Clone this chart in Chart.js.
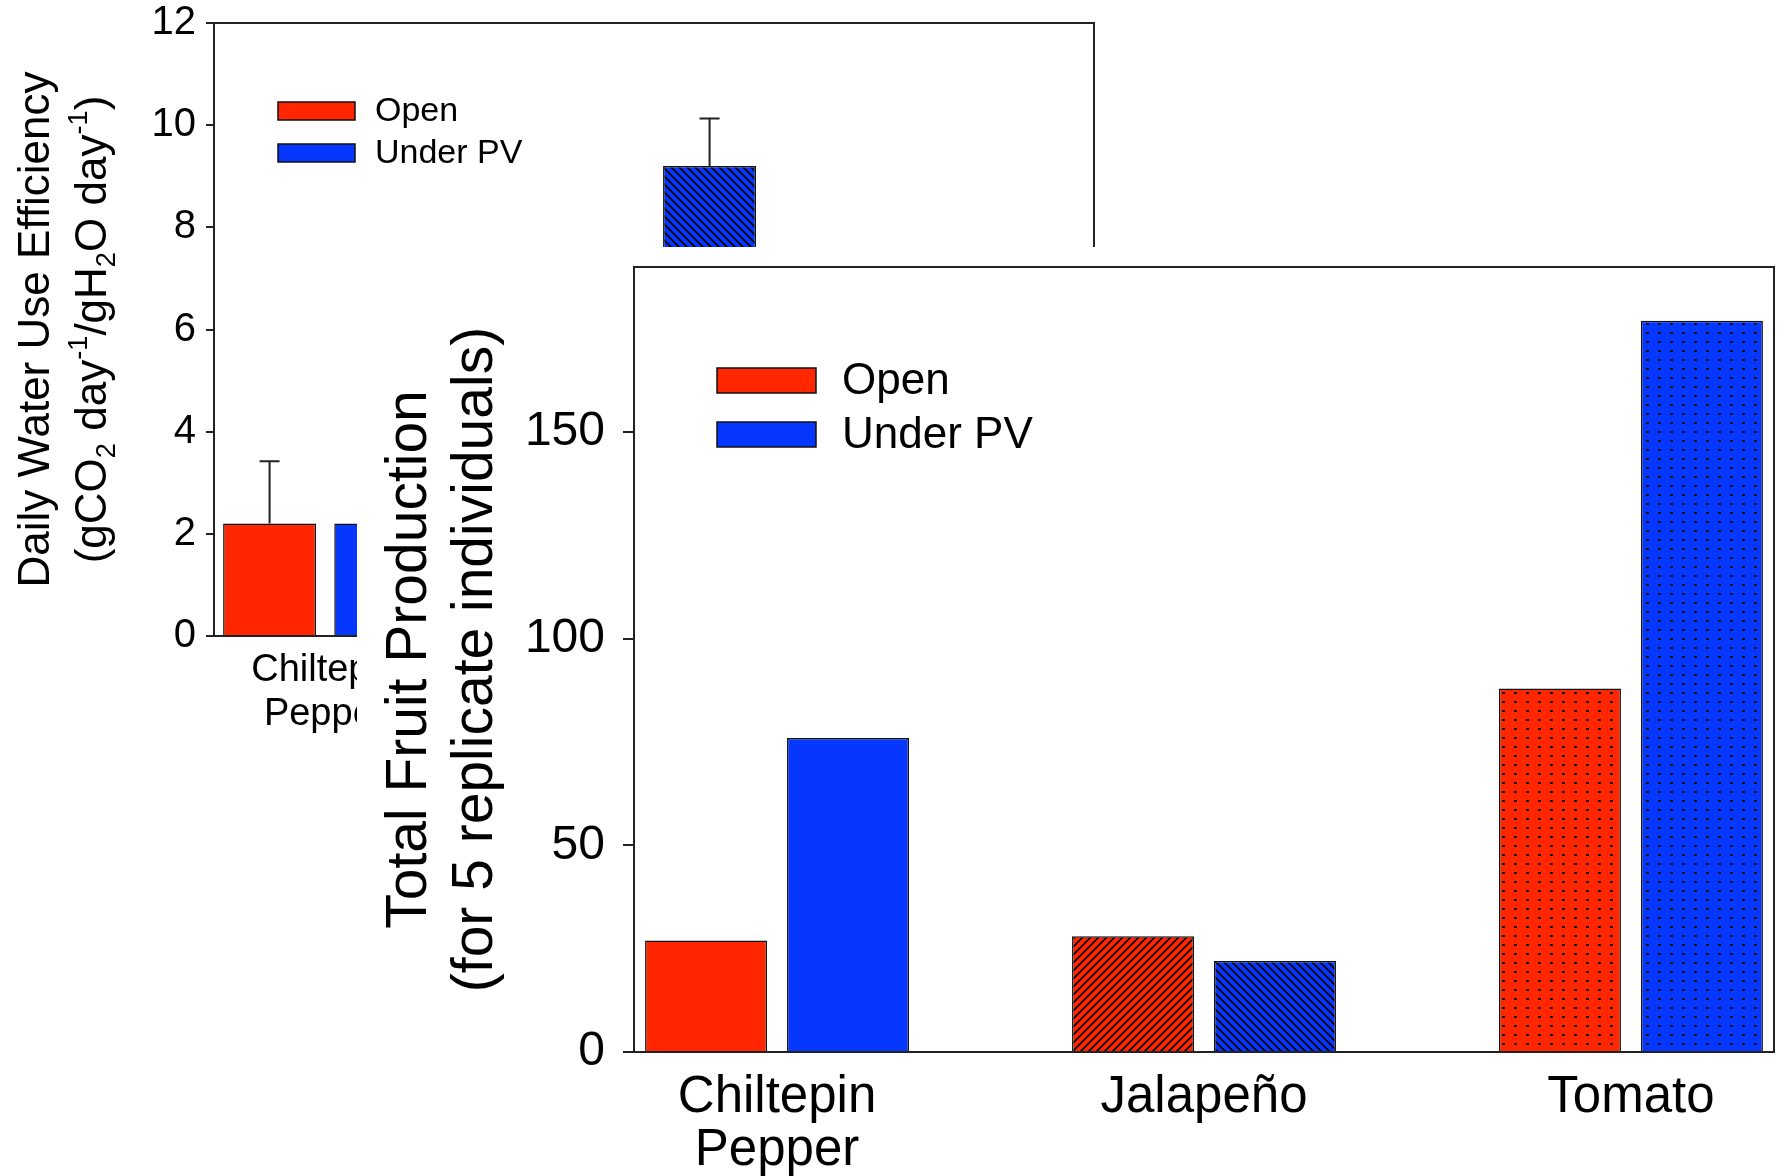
<!DOCTYPE html>
<html>
<head>
<meta charset="utf-8">
<title>Fruit production and water use efficiency</title>
<script src="https://cdn.jsdelivr.net/npm/chart.js@4.4.1/dist/chart.umd.min.js"></script>
<style>
    body { margin: 0; background: #fff; }
    #wrap { position: relative; width: 1781px; height: 1176px; overflow: hidden; }
    #wueChart { position: absolute; left: 0; top: 0; }
    #fruitChart { position: absolute; left: 357px; top: 247px; background: #fff; }
</style>
</head>
<body>
<div id="wrap">
    <canvas id="wueChart" width="1781" height="1176"></canvas>
    <canvas id="fruitChart" width="1424" height="929"></canvas>
</div>
<script>
// chart data
const categories = [['Chiltepin', 'Pepper'], 'Jalapeño', 'Tomato'];
const seriesNames = ['Open', 'Under PV'];

// front chart: total fruit production
const fruitOpen = [27, 28, 88];
const fruitUnderPV = [76, 22, 177];
const fruitTicks = [0, 50, 100, 150];

// back chart: daily water use efficiency (bars hidden behind the front chart are left empty)
const wueOpen = [2.2, null, null];
const wueUnderPV = [2.2, 9.2, null];
const wueOpenErr = [1.22, null, null];
const wueUnderPVErr = [null, 0.93, null];
const wueTicks = [0, 2, 4, 6, 8, 10, 12];

const RED = '#ff2600';
const BLUE = '#0537ff';
const FONT = "'Liberation Sans', Arial, Helvetica, sans-serif";

Chart.defaults.font.family = FONT;
Chart.defaults.color = '#000';

function makeHatch(ctx, color, dir) {
    var c = document.createElement('canvas');
    c.width = 8;
    c.height = 8;
    var g = c.getContext('2d');
    g.fillStyle = color;
    g.fillRect(0, 0, 8, 8);
    g.strokeStyle = '#000';
    g.lineWidth = 1.7;
    g.beginPath();
    if (dir === '/') {
        g.moveTo(-2, 10); g.lineTo(10, -2);
        g.moveTo(-2, 2); g.lineTo(2, -2);
        g.moveTo(6, 10); g.lineTo(10, 6);
    } else {
        g.moveTo(-2, -2); g.lineTo(10, 10);
        g.moveTo(-2, 6); g.lineTo(2, 10);
        g.moveTo(6, -2); g.lineTo(10, 2);
    }
    g.stroke();
    return ctx.createPattern(c, 'repeat');
}

function makeDots(ctx, color) {
    var c = document.createElement('canvas');
    c.width = 12;
    c.height = 9;
    var g = c.getContext('2d');
    g.fillStyle = color;
    g.fillRect(0, 0, 12, 9);
    g.fillStyle = '#111';
    g.fillRect(5, 4, 3, 2);
    return ctx.createPattern(c, 'repeat');
}

// fills per category: solid, hatched, dotted
function fillsFor(ctx, color, dir) {
    return [color, makeHatch(ctx, color, dir), makeDots(ctx, color)];
}

function toPoints(values) {
    return values.map(function (v, i) { return { x: i, y: v }; });
}

// y-axis title, drawn rotated; segments may be sub- or superscript
function drawRich(ctx, segs, cx, cy, size) {
    var small = size * 0.62;
    var total = 0;
    segs.forEach(function (s) {
        ctx.font = (s.sub || s.sup ? small : size) + 'px ' + FONT;
        s.w = ctx.measureText(s.t).width;
        total += s.w;
    });
    ctx.save();
    ctx.translate(cx, cy);
    ctx.rotate(-Math.PI / 2);
    ctx.textBaseline = 'alphabetic';
    ctx.textAlign = 'left';
    var x = -total / 2;
    var base = size * 0.36;
    segs.forEach(function (s) {
        ctx.font = (s.sub || s.sup ? small : size) + 'px ' + FONT;
        var y = base;
        if (s.sub) y += size * 0.2;
        if (s.sup) y -= size * 0.42;
        ctx.fillText(s.t, x, y);
        x += s.w;
    });
    ctx.restore();
}

const sideTitlePlugin = {
    id: 'sideTitle',
    afterDraw: function (chart, args, opts) {
        var area = chart.chartArea;
        var cy = (area.top + area.bottom) / 2;
        chart.ctx.fillStyle = '#000';
        opts.lines.forEach(function (line, i) {
            var segs = typeof line === 'string' ? [{ t: line }] : line;
            drawRich(chart.ctx, segs, area.left - opts.offsets[i], cy, opts.size);
        });
    }
};

// top and right frame lines
const framePlugin = {
    id: 'frame',
    afterDraw: function (chart) {
        var a = chart.chartArea;
        var ctx = chart.ctx;
        ctx.save();
        ctx.strokeStyle = '#222';
        ctx.lineWidth = 2;
        ctx.beginPath();
        ctx.moveTo(a.left, a.top);
        ctx.lineTo(a.right, a.top);
        ctx.lineTo(a.right, a.bottom);
        ctx.stroke();
        ctx.restore();
    }
};

const boxLegendPlugin = {
    id: 'boxLegend',
    afterDraw: function (chart, args, opts) {
        var a = chart.chartArea;
        var ctx = chart.ctx;
        ctx.save();
        chart.data.datasets.forEach(function (ds, i) {
            var x = a.left + opts.left;
            var y = a.top + opts.top + i * opts.step;
            ctx.fillStyle = ds.legendColor;
            ctx.fillRect(x, y, opts.w, opts.h);
            ctx.strokeStyle = '#111';
            ctx.lineWidth = 1.5;
            ctx.strokeRect(x, y, opts.w, opts.h);
            ctx.fillStyle = '#000';
            ctx.font = opts.size + 'px ' + FONT;
            ctx.textBaseline = 'middle';
            ctx.fillText(ds.label, x + opts.w + opts.gap, y + opts.h / 2 + 1);
        });
        ctx.restore();
    }
};

const errorBarPlugin = {
    id: 'errorBars',
    afterDatasetsDraw: function (chart, args, opts) {
        var ctx = chart.ctx;
        var yScale = chart.scales.y;
        ctx.save();
        ctx.strokeStyle = '#222';
        ctx.lineWidth = 2;
        chart.data.datasets.forEach(function (ds, di) {
            if (!ds.errors) return;
            var meta = chart.getDatasetMeta(di);
            meta.data.forEach(function (bar, i) {
                var e = ds.errors[i];
                var v = ds.data[i].y;
                if (e == null || v == null) return;
                var top = yScale.getPixelForValue(v + e);
                ctx.beginPath();
                ctx.moveTo(bar.x, bar.y);
                ctx.lineTo(bar.x, top);
                ctx.moveTo(bar.x - opts.cap, top);
                ctx.lineTo(bar.x + opts.cap, top);
                ctx.stroke();
            });
        });
        ctx.restore();
    }
};

function barChart(canvasId, cfg) {
    var ctx = document.getElementById(canvasId).getContext('2d');
    return new Chart(ctx, {
        type: 'bar',
        data: {
            datasets: [{
                label: seriesNames[0],
                data: toPoints(cfg.open),
                errors: cfg.openErr,
                legendColor: RED,
                backgroundColor: fillsFor(ctx, RED, '/'),
                borderColor: '#111',
                borderWidth: 1.5
            }, {
                label: seriesNames[1],
                data: toPoints(cfg.pv),
                errors: cfg.pvErr,
                legendColor: BLUE,
                backgroundColor: fillsFor(ctx, BLUE, '\\'),
                borderColor: '#111',
                borderWidth: 1.5
            }]
        },
        options: {
            responsive: false,
            animation: false,
            categoryPercentage: cfg.catPct,
            barPercentage: cfg.barPct,
            layout: { padding: cfg.padding },
            plugins: {
                legend: { display: false },
                tooltip: { enabled: false },
                sideTitle: cfg.title,
                boxLegend: cfg.legend,
                errorBars: { cap: 10 }
            },
            scales: {
                x: {
                    type: 'linear',
                    offset: false,
                    min: -cfg.edge,
                    max: categories.length - 1 + cfg.edge,
                    grid: { display: false, drawTicks: false, offset: false },
                    border: { display: true, color: '#222', width: 2 },
                    afterBuildTicks: function (scale) {
                        scale.ticks = categories.map(function (c, i) { return { value: i }; });
                    },
                    afterFit: function (scale) {
                        scale.height = cfg.xHeight;
                        scale.paddingLeft = 0;
                        scale.paddingRight = 0;
                    },
                    ticks: {
                        autoSkip: false,
                        maxRotation: 0,
                        padding: cfg.xPad,
                        font: { size: cfg.xFont, lineHeight: cfg.xLine },
                        callback: function (value) { return categories[value]; }
                    }
                },
                y: {
                    min: 0,
                    max: cfg.yMax,
                    grid: { display: true, drawOnChartArea: false, drawTicks: true, tickLength: cfg.tickLen, color: '#222', lineWidth: 2 },
                    border: { display: true, color: '#222', width: 2 },
                    afterBuildTicks: function (scale) {
                        scale.ticks = cfg.ticks.map(function (v) { return { value: v }; });
                    },
                    afterFit: function (scale) {
                        scale.width = cfg.yWidth;
                        scale.paddingTop = 0;
                        scale.paddingBottom = 0;
                    },
                    ticks: {
                        padding: cfg.yPad,
                        font: { size: cfg.yFont }
                    }
                }
            }
        },
        plugins: [framePlugin, errorBarPlugin, boxLegendPlugin, sideTitlePlugin]
    });
}

// back chart
barChart('wueChart', {
    open: wueOpen,
    pv: wueUnderPV,
    openErr: wueOpenErr,
    pvErr: wueUnderPVErr,
    ticks: wueTicks,
    yMax: 12,
    edge: 0.338,
    catPct: 0.676,
    barPct: 0.836,
    padding: { left: 0, top: 23, right: 687, bottom: 0 },
    yWidth: 214,
    xHeight: 540,
    tickLen: 8,
    yPad: 10,
    yFont: 40,
    xPad: 13,
    xFont: 38,
    xLine: 1.15,
    legend: { left: 64, top: 79, w: 77, h: 18, step: 42, gap: 20, size: 34 },
    title: {
        size: 44,
        offsets: [181, 124],
        lines: [
            'Daily Water Use Efficiency',
            [{ t: '(gCO' }, { t: '2', sub: true }, { t: ' day' }, { t: '-1', sup: true },
             { t: '/gH' }, { t: '2', sub: true }, { t: 'O day' }, { t: '-1', sup: true }, { t: ')' }]
        ]
    }
});

// front chart
barChart('fruitChart', {
    open: fruitOpen,
    pv: fruitUnderPV,
    openErr: null,
    pvErr: null,
    ticks: fruitTicks,
    yMax: 190,
    edge: 0.335,
    catPct: 0.665,
    barPct: 0.859,
    padding: { left: 0, top: 20, right: 7, bottom: 0 },
    yWidth: 277,
    xHeight: 124,
    tickLen: 11,
    yPad: 18,
    yFont: 48,
    xPad: 19,
    xFont: 51,
    xLine: 1.05,
    legend: { left: 83, top: 101, w: 99, h: 25, step: 54, gap: 26, size: 44 },
    title: {
        size: 57,
        offsets: [229, 163],
        lines: ['Total Fruit Production', '(for 5 replicate individuals)']
    }
});
</script>
</body>
</html>
